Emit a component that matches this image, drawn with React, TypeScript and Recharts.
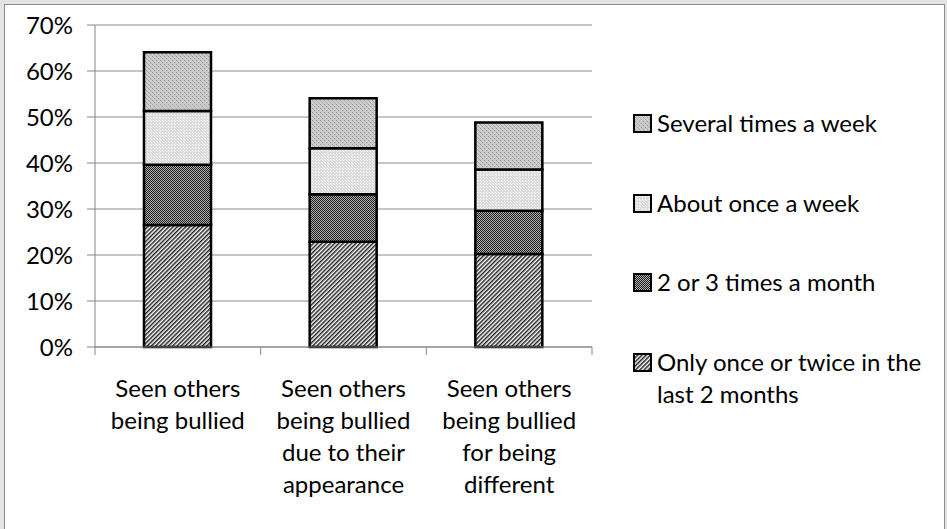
import React from 'react';
import { BarChart, Bar, XAxis, YAxis, CartesianGrid, Legend } from 'recharts';

// categories (line breaks as in the original axis labels)
const categories = [
  'Seen others\nbeing bullied',
  'Seen others\nbeing bullied\ndue to their\nappearance',
  'Seen others\nbeing bullied\nfor being\ndifferent'
];
// percentages per frequency
const onceOrTwice = [26.5, 22.9, 20.2];
const twoOrThree = [13.1, 10.3, 9.4];
const onceAWeek = [11.7, 10.0, 9.0];
const severalTimes = [12.8, 10.9, 10.2];
const yTicks = [0, 10, 20, 30, 40, 50, 60, 70];

type Series = { key: string; name: string; values: number[]; fill: string };

const series: Series[] = [
  { key: 'once', name: 'Only once or twice in the last 2 months', values: onceOrTwice, fill: 'url(#pOnce)' },
  { key: 'twoThree', name: '2 or 3 times a month', values: twoOrThree, fill: 'url(#pTwoThree)' },
  { key: 'weekly', name: 'About once a week', values: onceAWeek, fill: 'url(#pWeekly)' },
  { key: 'several', name: 'Several times a week', values: severalTimes, fill: 'url(#pSeveral)' }
];

const data = categories.map((category, i) => {
  const row: Record<string, string | number> = { category };
  series.forEach(s => { row[s.key] = s.values[i]; });
  return row;
});

const FONT = 'Lato, Carlito, Calibri, sans-serif';
const FONT_SIZE = 24;

function CategoryTick(props: any) {
  const { x, y, payload, width, index } = props;
  const bw = width / categories.length;
  const lines = String(payload.value).split('\n');
  return (
    <g>
      <line x1={x - bw / 2} y1={y} x2={x - bw / 2} y2={y + 8} stroke="#868686" />
      {index === categories.length - 1 && <line x1={x + bw / 2} y1={y} x2={x + bw / 2} y2={y + 8} stroke="#868686" />}
      <text x={x} y={y + 50} textAnchor="middle" fontFamily={FONT} fontSize={FONT_SIZE} fill="#000">
        {lines.map((l, i) => <tspan key={i} x={x} dy={i === 0 ? 0 : 32}>{l}</tspan>)}
      </text>
    </g>
  );
}

function LegendBox() {
  const items = [...series].reverse();
  return (
    <div style={{ position: 'relative', width: 310, fontFamily: FONT, fontSize: FONT_SIZE, color: '#000', textAlign: 'left' }}>
      {items.map((s, i) => (
        <div key={s.key} style={{ position: 'absolute', top: i * 79.5, left: 0, display: 'flex', alignItems: 'flex-start', lineHeight: '32px' }}>
          <svg width={24} height={32} style={{ flex: 'none' }}>
            <rect x={1} y={8} width={17} height={17} fill={s.fill} stroke="#000" strokeWidth={2} />
          </svg>
          <span style={{ width: 285 }}>{s.name}</span>
        </div>
      ))}
    </div>
  );
}

export default function App() {
  return (
    <div style={{ position: 'absolute', left: 0, top: 0, width: 947, height: 529, background: '#e3e3e3', overflow: 'hidden' }}>
      <div style={{ position: 'absolute', left: 4, top: 4, width: 939, height: 540, background: '#fff', border: '1px solid #8c8c8c' }} />
      <div style={{ position: 'absolute', left: 0, top: 0 }}>
        <BarChart width={947} height={529} data={data} barSize={67} margin={{ top: 25, right: 355, bottom: 0, left: 0 }}>
          <defs>
            <pattern id="pOnce" width="3" height="3" patternUnits="userSpaceOnUse" patternTransform="rotate(45)">
              <rect width="3" height="3" fill="#fff" />
              <rect width="1.5" height="3" fill="#222" />
            </pattern>
            <pattern id="pTwoThree" width="2" height="2" patternUnits="userSpaceOnUse">
              <rect width="2" height="2" fill="#b0b0b0" />
              <rect width="1" height="1" fill="#1e1e1e" />
              <rect x="1" y="1" width="1" height="1" fill="#1e1e1e" />
            </pattern>
            <pattern id="pWeekly" width="3" height="3" patternUnits="userSpaceOnUse">
              <rect width="3" height="3" fill="#dcdcdc" />
              <rect width="1" height="1" fill="#fff" />
              <rect x="1" y="1" width="1" height="1" fill="#f4f4f4" />
            </pattern>
            <pattern id="pSeveral" width="4" height="4" patternUnits="userSpaceOnUse">
              <rect width="4" height="4" fill="#cdcdcd" />
              <rect x="0" y="0" width="1" height="1" fill="#9e9e9e" />
              <rect x="1" y="1" width="1" height="1" fill="#b2b2b2" />
              <rect x="2" y="2" width="1" height="1" fill="#9e9e9e" />
              <rect x="3" y="3" width="1" height="1" fill="#b2b2b2" />
            </pattern>
          </defs>
          <CartesianGrid vertical={false} stroke="#8c8c8c" />
          <XAxis dataKey="category" height={182} axisLine={{ stroke: '#868686' }} tickLine={false} tickSize={0} tickMargin={0} tick={<CategoryTick />} interval={0} />
          <YAxis width={95} domain={[0, 70]} ticks={yTicks} tickFormatter={v => `${v}%`} axisLine={{ stroke: '#868686' }} tickLine={{ stroke: '#868686' }} tickSize={8} tickMargin={14} tick={{ fill: '#000', fontFamily: FONT, fontSize: FONT_SIZE }} />
          <Legend layout="horizontal" verticalAlign="middle" align="center" content={<LegendBox />} wrapperStyle={{ left: 633, top: 107, width: 310, height: 330 }} />
          {series.map(s => (
            <Bar key={s.key} dataKey={s.key} name={s.name} stackId="a" fill={s.fill} stroke="#000" strokeWidth={2.5} isAnimationActive={false} />
          ))}
        </BarChart>
      </div>
    </div>
  );
}
